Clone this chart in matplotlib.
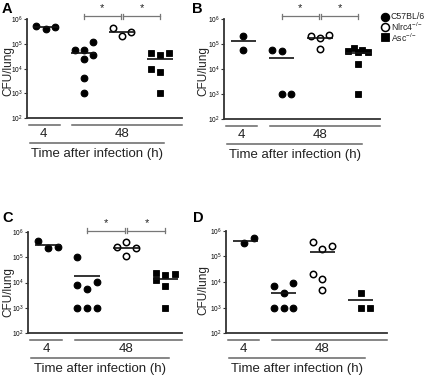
import matplotlib
matplotlib.use('Agg')
import matplotlib.pyplot as plt
import numpy as np
from matplotlib.transforms import blended_transform_factory, offset_copy
from matplotlib.lines import Line2D

plt.rcParams['font.family'] = ['Liberation Sans', 'DejaVu Sans']
plt.rcParams['mathtext.fontset'] = 'custom'
plt.rcParams['mathtext.rm'] = 'Liberation Sans'
plt.rcParams['mathtext.it'] = 'Liberation Sans:italic'
plt.rcParams['mathtext.bf'] = 'Liberation Sans:bold'

# ---------------- data (CFU/lung) ----------------
groups = ['C57BL/6 4h', 'C57BL/6 48h', 'Nlrc4-/- 48h', 'Asc-/- 48h']
ytick_vals = [1e2, 1e3, 1e4, 1e5, 1e6]
ytick_labels = ['$10^{2}$', '$10^{3}$', '$10^{4}$', '$10^{5}$', '$10^{6}$']
time_labels = ['4', '48']
xlabel = 'Time after infection (h)'
ylabel = 'CFU/lung'
legend_labels = ['C57BL/6', 'Nlrc4$^{\\mathrm{-/-}}$', 'Asc$^{\\mathrm{-/-}}$']

a_4h = [5.2e5, 4.0e5, 4.7e5]
a_c57 = [5.8e4, 5.8e4, 1.2e5, 2.5e4, 3.6e4, 4.3e3, 1.0e3]
a_nlrc4 = [4.3e5, 2.0e5, 3.0e5]
a_asc = [4.3e4, 3.6e4, 4.3e4, 9.8e3, 7.4e3, 1.0e3]

b_4h = [2.1e5, 5.8e4]
b_c57 = [5.8e4, 5.4e4, 1.0e3, 1.0e3]
b_nlrc4 = [2.1e5, 1.8e5, 2.2e5, 6.2e4]
b_asc = [5.4e4, 7.1e4, 4.7e4, 5.8e4, 4.9e4, 1.6e4, 1.0e3]

c_4h = [4.3e5, 2.2e5, 2.6e5]
c_c57 = [9.8e4, 8.3e3, 5.8e3, 1.07e4, 1.0e3, 1.0e3, 1.0e3]
c_nlrc4 = [2.4e5, 3.8e5, 2.2e5, 1.1e5]
c_asc = [2.4e4, 1.95e4, 2.1e4, 1.2e4, 7.4e3, 1.0e3]

d_4h = [3.2e5, 5.0e5]
d_c57 = [6.9e3, 3.8e3, 8.9e3, 1.0e3, 1.0e3, 1.0e3]
d_nlrc4 = [3.7e5, 1.95e5, 2.6e5, 2.0e4, 1.3e4, 4.9e3]
d_asc = [3.8e3, 1.0e3, 1.0e3]

# ---------------- layout (horizontal scatter slots, not data) ----------------
a_off = [[-1, 0, 1], [-1, 0, 1, 0, 1, 0, 0], [-1, 0, 1], [-1, 0, 1, -1, 0, 0]]
b_off = [[0, 0], [-1, 0, 0, 1], [-1, 0, 1, 0], [-1.1, -0.5, 0, 0.43, 1.0, 0, 0]]
c_off = [[-1, 0, 1], [-1, -1, 0, 1, -1, 0, 1], [-1, 0, 1, 0], [-1, 0, 1, -1, 0, 0]]
d_off = [[-0.1, 0.9], [-1, 0, 1, -1, 0, 1], [-1, 0, 1, -1, 0, 0], [0, 0, 1]]

W, H = 435, 376
fig = plt.figure(figsize=(W / 100, H / 100), dpi=100)

GREY = '#666666'
AXC = '#333333'
SLOT = 0.245
HALF = 0.33

panels = [
    dict(letter='A', rect=(26.7, 181.7, 19, 118.3), sp=38.1,
         data=[a_4h, a_c57, a_nlrc4, a_asc], off=a_off, brk=6.12,
         letter_xy=(2, 9), ylab_xy=(8, 71)),
    dict(letter='B', rect=(224, 379.7, 19, 119), sp=38.4,
         data=[b_4h, b_c57, b_nlrc4, b_asc], off=b_off, brk=6.12,
         letter_xy=(192, 9), ylab_xy=(203, 71)),
    dict(letter='C', rect=(28.3, 181.7, 231.7, 333.3), sp=39.2,
         data=[c_4h, c_c57, c_nlrc4, c_asc], off=c_off, brk=6.03,
         letter_xy=(2, 218), ylab_xy=(8, 292)),
    dict(letter='D', rect=(226, 386.7, 230.7, 333.3), sp=38.5,
         data=[d_4h, d_c57, d_nlrc4, d_asc], off=d_off, brk=None,
         letter_xy=(193, 218), ylab_xy=(203, 290)),
]

styles = [
    dict(marker='o', mfc='black', mec='black', ms=4.8, mew=0.8),
    dict(marker='o', mfc='black', mec='black', ms=4.8, mew=0.8),
    dict(marker='o', mfc='white', mec='black', ms=4.6, mew=1.1),
    dict(marker='s', mfc='black', mec='black', ms=4.4, mew=0.6),
]

for p in panels:
    l, r, t, b = p['rect']
    ax = fig.add_axes([l / W, 1 - b / H, (r - l) / W, (b - t) / H])
    xmax = (r - l) / p['sp']
    for gi, (vals, offs) in enumerate(zip(p['data'], p['off'])):
        xc = 0.5 + gi
        xs = xc + np.array(offs) * SLOT
        ax.plot(xs, vals, linestyle='none', zorder=3, clip_on=False, **styles[gi])
        m = np.mean(vals)
        ax.plot([xc - HALF, xc + HALF], [m, m], color='#111111', lw=1.2, zorder=4,
                solid_capstyle='butt')
    ax.set_yscale('log')
    ax.set_ylim(1e2, 1e6)
    ax.set_xlim(0, xmax)
    ax.set_yticks(ytick_vals)
    ax.set_yticklabels(ytick_labels)
    ax.yaxis.set_minor_locator(matplotlib.ticker.NullLocator())
    ax.set_xticks([])
    ax.tick_params(axis='y', length=2, width=0.8, pad=1, labelsize=4.8, color=AXC)
    for s in ['top', 'right']:
        ax.spines[s].set_visible(False)
    for s in ['left', 'bottom']:
        ax.spines[s].set_color(AXC)
        ax.spines[s].set_linewidth(1.3)

    trans = blended_transform_factory(ax.transData, ax.transAxes)
    def oc(dy):
        return offset_copy(trans, fig=fig, y=-dy, units='dots')
    ax.add_line(Line2D([0.05, 0.87], [0, 0], transform=oc(7), color=GREY, lw=1.1, clip_on=False))
    ax.add_line(Line2D([1.2, xmax], [0, 0], transform=oc(7), color=GREY, lw=1.1, clip_on=False))
    ax.add_line(Line2D([0.08, 3.6], [0, 0], transform=oc(25), color=GREY, lw=1.1, clip_on=False))
    ax.text(0.45, 0, time_labels[0], transform=oc(16), ha='center', va='center', fontsize=9.5, color='#222222')
    ax.text(2.5, 0, time_labels[1], transform=oc(16), ha='center', va='center', fontsize=9.5, color='#222222')
    ax.text(1.84, 0, xlabel, transform=oc(36), ha='center', va='center', fontsize=9.5, color='#222222')

    if p['brk'] is not None:
        yb = 10 ** p['brk']
        ylo, yhi = 10 ** (p['brk'] - 0.1), 10 ** (p['brk'] + 0.1)
        for (x1, x2) in [(1.5, 2.47), (2.53, 3.5)]:
            ax.plot([x1, x2], [yb, yb], color='#777777', lw=0.9, clip_on=False)
            ax.plot([x1, x1], [ylo, yhi], color='#777777', lw=0.9, clip_on=False)
            ax.plot([x2, x2], [ylo, yhi], color='#777777', lw=0.9, clip_on=False)
            ax.text((x1 + x2) / 2, 10 ** (p['brk'] + 0.3), '*', ha='center', va='center',
                    fontsize=8, color='#222222')
    ax.set_ylim(1e2, 1e6)
    ax.set_xlim(0, xmax)

    lx, ly = p['letter_xy']
    fig.text(lx / W, 1 - ly / H, p['letter'], fontsize=10.5, fontweight='bold', va='center', ha='left')
    yx, yy = p['ylab_xy']
    fig.text(yx / W, 1 - yy / H, ylabel, rotation=90, fontsize=8.5, va='center', ha='center', color='#222222')

# legend
leg_styles = [styles[0], styles[2], styles[3]]
for i, (lab, st) in enumerate(zip(legend_labels, leg_styles)):
    y = 16.7 + 10.3 * i
    st2 = dict(st)
    st2['ms'] = st['ms'] * 1.25
    fig.add_artist(Line2D([385.5 / W], [1 - y / H], linestyle='none', transform=fig.transFigure, **st2))
    fig.text(391 / W, 1 - y / H, lab, fontsize=6.3, va='center', ha='left', color='#222222')

fig.savefig('out.png', dpi=100)
